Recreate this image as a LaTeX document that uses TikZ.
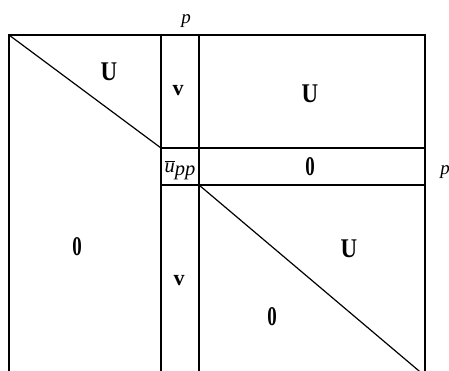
\documentclass[tikz,border=0pt]{standalone}
\usepackage{fontspec}
\setmainfont{Liberation Serif}
\begin{document}
\begin{tikzpicture}[x=1pt,y=-1pt,
  edge/.style={line width=1.2pt,line cap=rect},
  bigl/.style={inner sep=0pt,font=\fontsize{27}{29}\selectfont\bfseries},
  vl/.style={inner sep=0pt,font=\fontsize{22}{24}\selectfont\bfseries},
  ml/.style={inner sep=0pt,font=\fontsize{19}{21}\selectfont\itshape},
  ul/.style={inner sep=0pt,font=\fontsize{20.5}{23}\selectfont\itshape}]
\useasboundingbox (0,0) rectangle (449,371);
\clip (0,0) rectangle (449,371);
% frame corners
\coordinate (tl) at (9,35);
\coordinate (tr) at (425,35);
\coordinate (bl) at (9,380);
\coordinate (br) at (425,380);
\coordinate (c1t) at (161,35);
\coordinate (c1b) at (161,380);
\coordinate (c2t) at (199,35);
\coordinate (c2b) at (199,380);
\coordinate (r1l) at (161,148);
\coordinate (r1r) at (425,148);
\coordinate (r2l) at (161,185);
\coordinate (r2m) at (199,185);
\coordinate (r2r) at (425,185);
\coordinate (dend) at (425,376);
% lines
\draw[edge] (bl) -- (tl) -- (tr) -- (br);
\draw[edge] (c1t) -- (c1b);
\draw[edge] (c2t) -- (c2b);
\draw[edge] (r1l) -- (r1r);
\draw[edge] (r2l) -- (r2r);
\draw[edge] (tl) -- (r1l);
\draw[edge] (r2m) -- (dend);
% labels
\node[bigl] (u1) at (109,72) {\scalebox{0.85}[1]{U}};
\node[vl] (v1) at (178,91) {v};
\node[bigl] (u2) at (310,94) {\scalebox{0.85}[1]{U}};
\node[ul] (upp) at (180,170) {$\overline{\mbox{u}}$\raisebox{-3pt}{pp}};
\node[bigl] (z1) at (310,167) {\scalebox{0.7}[1]{0}};
\node[bigl] (z2) at (77,247) {\scalebox{0.7}[1]{0}};
\node[vl] (v2) at (179,281) {v};
\node[bigl] (u3) at (349,249) {\scalebox{0.85}[1]{U}};
\node[bigl] (z3) at (272,317) {\scalebox{0.7}[1]{0}};
\node[ml] (ptop) at (186,21) {p};
\node[ml] (pright) at (445,172) {p};
\end{tikzpicture}
\end{document}
